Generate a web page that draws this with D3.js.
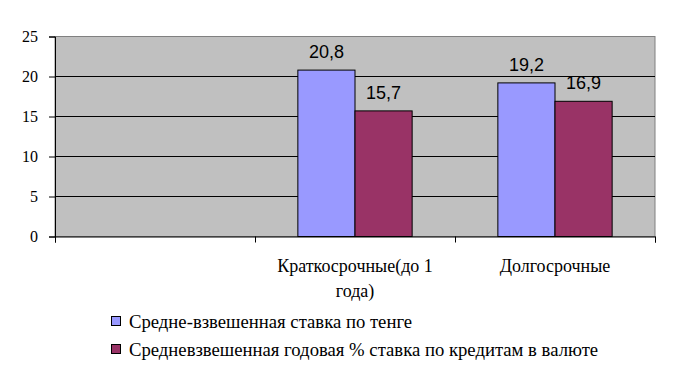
<!DOCTYPE html>
<html>
<head>
<meta charset="utf-8">
<script src="https://cdn.jsdelivr.net/npm/d3@7"></script>
<style>
  body { margin: 0; background: #fff; }
</style>
</head>
<body>
<div id="chart_div"></div>
<script>
// categories (first one is empty in the source chart)
const categories = ["", "Краткосрочные(до 1 года)", "Долгосрочные"];
const categoryLines = [[""], ["Краткосрочные(до 1", "года)"], ["Долгосрочные"]];
const seriesNames = ["Средне-взвешенная ставка по тенге", "Средневзвешенная годовая % ставка по кредитам в валюте"];
const tengeValues = [null, 20.8, 19.2];
const currencyValues = [null, 15.7, 16.9];
const yTicks = [0, 5, 10, 15, 20, 25];
const colors = ["#9999ff", "#993366"];

const serifFont = "Liberation Serif";
const sansFont = "Liberation Sans";

const width = 675, height = 378;
const margin = {top: 36.5, right: 20, bottom: 141.5, left: 55};
const plotW = width - margin.left - margin.right;
const plotH = height - margin.top - margin.bottom;

const svg = d3.select("#chart_div")
  .append("svg")
  .attr("width", width)
  .attr("height", height);

const g = svg.append("g")
  .attr("transform", `translate(${margin.left},${margin.top})`);

// scales
const x = d3.scaleBand()
  .domain(categories)
  .range([0, plotW]);

const xInner = d3.scaleBand()
  .domain([0, 1])
  .range([0, x.bandwidth()])
  .paddingInner(0)
  .paddingOuter(0.75);

const y = d3.scaleLinear()
  .domain([0, 25])
  .range([plotH, 0]);

// plot background
g.append("rect")
  .attr("x", 0).attr("y", 0)
  .attr("width", plotW).attr("height", plotH)
  .attr("fill", "#c0c0c0")
  .attr("stroke", "#808080")
  .attr("stroke-width", 1);

// gridlines
g.append("g")
  .selectAll("line")
  .data(yTicks.filter(d => d > 0 && d < 25))
  .join("line")
    .attr("x1", 0).attr("x2", plotW)
    .attr("y1", d => y(d)).attr("y2", d => y(d))
    .attr("stroke", "#000")
    .attr("stroke-width", 1);

// bars + data labels
const series = [tengeValues, currencyValues];
series.forEach((vals, si) => {
  const rows = categories.map((c, i) => ({c, v: vals[i]})).filter(d => d.v != null);

  g.append("g")
    .selectAll("rect")
    .data(rows)
    .join("rect")
      .attr("x", d => x(d.c) + xInner(si))
      .attr("y", d => y(d.v))
      .attr("width", xInner.bandwidth())
      .attr("height", d => y(0) - y(d.v))
      .attr("fill", colors[si])
      .attr("stroke", "#000")
      .attr("stroke-width", 1);

  g.append("g")
    .selectAll("text")
    .data(rows)
    .join("text")
      .attr("font-family", sansFont)
      .attr("font-size", 18)
      .attr("fill", "#000")
      .attr("x", d => x(d.c) + xInner(si) + xInner.bandwidth() / 2)
      .attr("y", d => y(d.v) - 12)
      .attr("text-anchor", "middle")
      .text(d => d3.format(".1f")(d.v).replace(".", ","));
});

// y axis
const yAxis = g.append("g")
  .call(d3.axisLeft(y).tickValues(yTicks).tickSize(6).tickPadding(11).tickFormat(d3.format("d")))
  .attr("font-family", serifFont)
  .attr("font-size", 16);
yAxis.select(".domain").attr("stroke", "#000");
yAxis.selectAll("text").attr("fill", "#000");

// x axis
const xAxis = g.append("g")
  .attr("transform", `translate(0,${plotH})`)
  .call(d3.axisBottom(d3.scaleLinear().domain([0, 3]).range([0, plotW]))
    .tickValues([0, 1, 2, 3]).tickSize(6).tickFormat(""));
xAxis.select(".domain").attr("stroke", "#000");

// category labels
const catLabels = g.append("g")
  .selectAll("text")
  .data(categories.map((c, i) => ({c, lines: categoryLines[i]})))
  .join("text")
    .attr("font-family", serifFont)
    .attr("font-size", 18)
    .attr("fill", "#000")
    .attr("text-anchor", "middle");
catLabels.selectAll("tspan")
  .data(d => d.lines.map((l, k) => ({l, k, d})))
  .join("tspan")
    .attr("x", t => x(t.d.c) + x.bandwidth() / 2)
    .attr("y", t => plotH + 35 + t.k * 25)
    .text(t => t.l);

// legend
const legend = svg.append("g")
  .attr("transform", "translate(111.5,316.5)");
seriesNames.forEach((name, i) => {
  const row = legend.append("g").attr("transform", `translate(0,${i * 28})`);
  row.append("rect")
    .attr("x", 0).attr("y", 0)
    .attr("width", 9).attr("height", 9)
    .attr("fill", colors[i])
    .attr("stroke", "#000")
    .attr("stroke-width", 1);
  row.append("text")
    .attr("font-family", serifFont)
    .attr("font-size", 18.7)
    .attr("fill", "#000")
    .attr("x", 17.5).attr("y", 11)
    .text(name);
});
</script>
</body>
</html>
